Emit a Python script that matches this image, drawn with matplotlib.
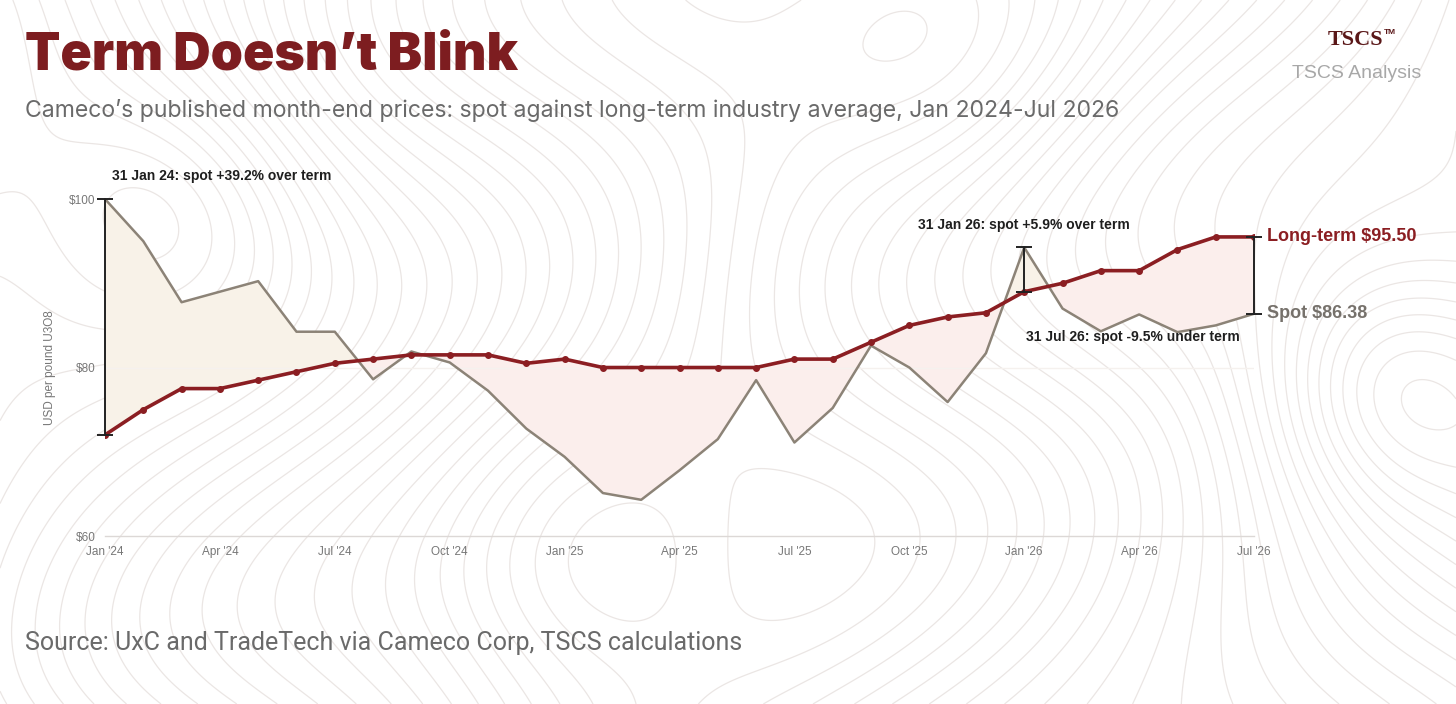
import numpy as np
import matplotlib
matplotlib.use("Agg")
import matplotlib.pyplot as plt

# data: Cameco month-end prices, USD/lb U3O8
months = ["Jan '24", "Feb '24", "Mar '24", "Apr '24", "May '24", "Jun '24",
          "Jul '24", "Aug '24", "Sep '24", "Oct '24", "Nov '24", "Dec '24",
          "Jan '25", "Feb '25", "Mar '25", "Apr '25", "May '25", "Jun '25",
          "Jul '25", "Aug '25", "Sep '25", "Oct '25", "Nov '25", "Dec '25",
          "Jan '26", "Feb '26", "Mar '26", "Apr '26", "May '26", "Jun '26",
          "Jul '26"]
spot = [100.0, 95.0, 87.75, 89.0, 90.25, 84.25, 84.25, 78.6, 81.9, 80.6, 77.25, 72.75,
        69.4, 65.1, 64.3, 67.8, 71.5, 78.5, 71.1, 75.2, 82.6, 80.0, 75.9, 81.7,
        94.25, 87.0, 84.3, 86.3, 84.2, 85.0, 86.38]
term = [72.0, 75.0, 77.5, 77.5, 78.5, 79.5, 80.5, 81.0, 81.5, 81.5, 81.5, 80.5,
        81.0, 80.0, 80.0, 80.0, 80.0, 80.0, 81.0, 81.0, 83.0, 85.0, 86.0, 86.5,
        89.0, 90.0, 91.5, 91.5, 94.0, 95.5, 95.5]
tick_idx = [0, 3, 6, 9, 12, 15, 18, 21, 24, 27, 30]
y_ticks = [60, 80, 100]
y_labels = ["$60", "$80", "$100"]

RED = "#8b1e22"
GREY = "#8c8377"
TXT = "#6a6a6a"

fig = plt.figure(figsize=(14.56, 7.04), dpi=100)
fig.patch.set_facecolor("white")

# decorative topo background
bg = fig.add_axes([0, 0, 1, 1], zorder=-5)
gx, gy = np.meshgrid(np.linspace(0, 2.07, 600), np.linspace(0, 1, 300))
zz = (gx * 4.0 + 0.5 * np.sin(gy * 6 + gx * 2.5) + 0.35 * np.cos(gy * 9 - gx * 4)
      + 1.6 * np.exp(-((gx - 1.97) ** 2 + (gy - 0.45) ** 2) / 0.03)
      - 1.3 * np.exp(-((gx - 0.25) ** 2 + (gy - 0.72) ** 2) / 0.04)
      + 1.2 * np.exp(-((gx - 0.85) ** 2 + (gy - 0.2) ** 2) / 0.05)
      - 1.0 * np.exp(-((gx - 1.35) ** 2 + (gy - 0.9) ** 2) / 0.05))
bg.contour(gx, gy, zz, levels=55, colors="#ebe6e4", linewidths=0.9, linestyles="solid")
bg.set_xlim(0, 2.07)
bg.set_ylim(0, 1)
bg.axis("off")

ax = fig.add_axes([0.0721, 0.2386, 0.7892, 0.4787])
ax.set_facecolor("none")
x = np.arange(len(months))
s = np.array(spot)
t = np.array(term)

ax.fill_between(x, s, t, where=s >= t, interpolate=True, color="#f8f2e8", lw=0, zorder=1)
ax.fill_between(x, s, t, where=s < t, interpolate=True, color="#fbeeec", lw=0, zorder=1)
ax.axhline(80, color="#f5f1ee", lw=1, zorder=1.5)
ax.plot(x, s, color=GREY, lw=1.8, zorder=3)
ax.plot(x, t, color=RED, lw=2.6, marker="o", ms=4, zorder=4)

# spread brackets
for i in [0, 24, 30]:
    ax.plot([i, i], [t[i], s[i]], color="#222222", lw=1.4, zorder=5, clip_on=False)
    ax.plot([i, i], [t[i], s[i]], ls="none", marker="_", ms=11, mew=1.4,
            color="#222222", zorder=5, clip_on=False)

ax.text(0.18, 102.7, "31 Jan 24: spot +39.2% over term", fontsize=10, fontweight="bold",
        family="Liberation Sans", color="#1e1e1e", ha="left", va="center")
ax.text(24, 96.9, "31 Jan 26: spot +5.9% over term", fontsize=10, fontweight="bold",
        family="Liberation Sans", color="#1e1e1e", ha="center", va="center")
ax.text(29.63, 83.6, "31 Jul 26: spot -9.5% under term", fontsize=10, fontweight="bold",
        family="Liberation Sans", color="#1e1e1e", ha="right", va="center")
ax.text(30.35, t[-1], "Long-term $%.2f" % t[-1], fontsize=13, fontweight="bold",
        family="Liberation Sans", color=RED, ha="left", va="center")
ax.text(30.35, s[-1], "Spot $%.2f" % s[-1], fontsize=13, fontweight="bold",
        family="Liberation Sans", color="#76716b", ha="left", va="center")

ax.set_xlim(0, 30)
ax.set_ylim(60, 100)
ax.set_xticks(tick_idx)
ax.set_xticklabels([months[i] for i in tick_idx])
ax.set_yticks(y_ticks)
ax.set_yticklabels(y_labels)
for lab in ax.get_xticklabels() + ax.get_yticklabels():
    lab.set_family("Liberation Sans")
    lab.set_fontsize(8.5)
    lab.set_color("#777777")
ax.tick_params(length=0, pad=7)
for side in ["top", "right", "left"]:
    ax.spines[side].set_visible(False)
ax.spines["bottom"].set_color("#dcd8d6")
ax.spines["bottom"].set_linewidth(1)
ax.set_ylabel("USD per pound U3O8", family="Liberation Sans", fontsize=8.5,
              color="#777777", labelpad=9)

# headings
fig.text(0.0172, 0.921, "Term Doesn\u2019t Blink", fontsize=37.2, fontweight=900,
         family="Inter", color="#7d1d20", ha="left", va="center")
fig.text(0.0172, 0.843, "Cameco\u2019s published month-end prices: spot against long-term "
         "industry average, Jan 2024-Jul 2026", fontsize=16.6, fontweight="normal",
         family="Inter", color=TXT, ha="left", va="center")
fig.text(0.0172, 0.086, "Source: UxC and TradeTech via Cameco Corp, TSCS calculations",
         fontsize=18, fontweight="normal", family="Roboto", color=TXT, ha="left", va="center")
fig.text(0.950, 0.943, "TSCS", fontsize=16, fontweight="bold", family="Liberation Serif",
         color="#5a1718", ha="right", va="center")
fig.text(0.9505, 0.954, "TM", fontsize=6, fontweight="bold", family="Liberation Sans",
         color="#5a1718", ha="left", va="center")
fig.text(0.976, 0.896, "TSCS Analysis", fontsize=14, family="Liberation Sans",
         color="#a8a8a8", ha="right", va="center")

fig.savefig("out.png", dpi=100)
